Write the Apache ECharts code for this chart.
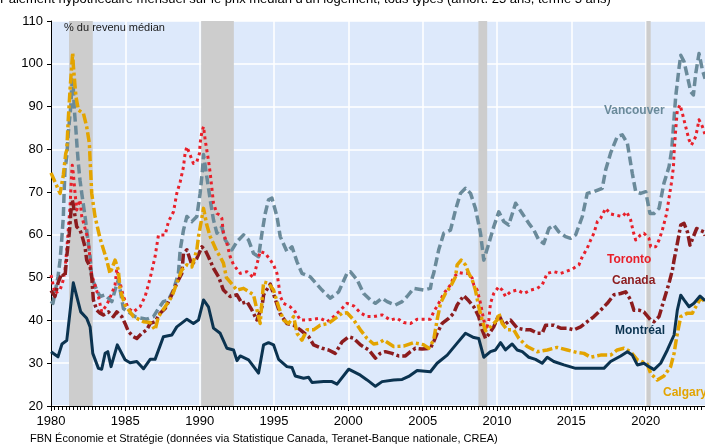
<!DOCTYPE html>
<html><head><meta charset="utf-8">
<script src="https://cdn.jsdelivr.net/npm/echarts@6/dist/echarts.min.js"></script>
<style>html,body{margin:0;padding:0;background:#fff}#c{width:705px;height:446px}</style>
</head><body><div id="c"></div>
<script>
const titleText = "Paiement hypothécaire mensuel sur le prix médian d'un logement, tous types (amort. 25 ans, terme 5 ans)";
const unitText = "% du revenu médian";
const sourceText = "FBN Économie et Stratégie (données via Statistique Canada, Teranet-Banque nationale, CREA)";

const recessions = [[1981.21,1982.81],[1990.1,1992.3],[2008.75,2009.34],[2020.05,2020.34]];

const montreal = [[1980.0,32.7],[1980.47,31.5],[1980.74,34.5],[1981.06,35.3],[1981.5,48.8],[1982.0,42],[1982.4,40.5],[1982.63,38.5],[1982.81,32.3],[1983.19,28.8],[1983.41,28.6],[1983.64,32.3],[1983.82,32.7],[1984.04,29.2],[1984.46,34.3],[1984.98,30.8],[1985.32,30.1],[1985.77,30.4],[1986.22,28.7],[1986.67,30.9],[1987.0,30.9],[1987.56,36.2],[1988.13,36.6],[1988.46,38.5],[1989.14,40.3],[1989.58,39.3],[1989.92,40.1],[1990.26,44.8],[1990.59,43.2],[1990.93,38.2],[1991.38,37],[1991.83,33.5],[1992.28,33.1],[1992.51,30.6],[1992.73,31.7],[1993.29,30.8],[1993.96,27.7],[1994.3,34.3],[1994.63,34.8],[1994.97,34.3],[1995.31,30.9],[1995.87,29.2],[1996.21,29.0],[1996.43,27],[1996.99,26.5],[1997.33,26.7],[1997.56,25.5],[1998.34,25.7],[1998.9,25.7],[1999.24,25.1],[2000.02,28.6],[2000.81,27.2],[2001.26,26.1],[2001.82,24.6],[2002.27,25.7],[2003.05,26.1],[2003.62,26.2],[2004.06,26.9],[2004.63,28.3],[2005.52,28.0],[2005.97,30.0],[2006.65,31.9],[2007.32,34.7],[2007.88,37.0],[2008.44,36.0],[2008.77,35.8],[2009.11,31.4],[2009.56,32.7],[2009.9,33.1],[2010.24,34.8],[2010.57,33.1],[2011.02,34.5],[2011.36,33.1],[2011.7,32.7],[2012.14,31.4],[2012.59,30.9],[2013.04,30],[2013.38,31.4],[2013.82,30.4],[2014.5,29.6],[2015.29,28.8],[2016.3,28.8],[2017.19,28.8],[2017.64,30.4],[2018.32,31.7],[2018.77,32.7],[2019.1,31.9],[2019.44,29.6],[2019.88,30],[2020.22,29.2],[2020.56,28.5],[2021.01,30],[2021.46,33.1],[2021.91,36.6],[2022.13,42.4],[2022.36,45.9],[2022.58,44.8],[2022.92,43.2],[2023.25,44],[2023.66,45.7],[2024.0,44.6]];

const vancouver = [[1980.0,44.5],[1980.13,44],[1980.47,50.2],[1980.61,54.1],[1980.72,58.8],[1980.83,64.3],[1980.88,69.7],[1980.94,75.2],[1981.06,78.3],[1981.16,83.7],[1981.33,90],[1981.43,96.2],[1981.5,94.3],[1981.57,89.2],[1981.66,85.3],[1981.77,79.8],[1981.84,76.7],[1981.95,72.8],[1982.07,69.7],[1982.29,64.3],[1982.47,59.2],[1982.63,54.9],[1982.74,49.9],[1983.08,47.1],[1983.3,45.6],[1983.64,46],[1984.09,44.4],[1984.31,47.1],[1984.53,49.5],[1984.87,42.8],[1985.32,41.7],[1985.66,40.9],[1985.99,40.6],[1986.44,40.3],[1986.89,40.9],[1987.23,42.8],[1987.56,44.4],[1987.9,44.8],[1988.24,47.1],[1988.57,51],[1988.69,56.5],[1988.91,61.1],[1989.14,64.3],[1989.47,63.1],[1989.81,64.3],[1990.03,69.7],[1990.19,75.2],[1990.26,78.8],[1990.48,73.6],[1990.71,68.2],[1990.93,63.5],[1991.16,60.4],[1991.49,61.9],[1991.72,58.8],[1992.17,56.5],[1992.51,58.4],[1992.95,60],[1993.29,58.8],[1993.62,55.7],[1993.96,54.9],[1994.19,60.4],[1994.41,65],[1994.63,68.2],[1994.86,68.6],[1994.97,68.2],[1995.2,64.3],[1995.42,59.6],[1995.54,59.2],[1995.87,56.1],[1996.21,57.2],[1996.55,53.7],[1996.88,51],[1997.44,50.2],[1998.23,47.1],[1998.79,45.2],[1999.35,46.7],[1999.91,51],[2000.13,51.4],[2000.59,49.5],[2001.03,46.3],[2001.48,44.8],[2001.82,44],[2002.27,45.2],[2002.61,44.4],[2003.16,43.6],[2003.62,44.4],[2003.95,45.6],[2004.4,47.5],[2005.07,47.1],[2005.52,47.5],[2005.64,49.9],[2005.74,51],[2006.08,56.5],[2006.42,60.4],[2006.87,61.1],[2007.21,65.8],[2007.54,69.7],[2007.88,70.9],[2008.22,69.7],[2008.55,66.2],[2008.89,60.4],[2009.11,54.1],[2009.45,58],[2009.78,61.9],[2010.12,65.4],[2010.46,63.1],[2010.79,62.3],[2011.25,67.4],[2011.7,65],[2012.14,62.7],[2012.48,61.1],[2012.81,58.8],[2013.15,58],[2013.49,61.5],[2013.82,62.3],[2014.16,60.7],[2014.61,59.6],[2014.95,59.2],[2015.29,60],[2015.74,64.3],[2016.07,69.7],[2016.52,70.1],[2017.08,70.9],[2017.31,75.2],[2017.64,79.1],[2018.09,83],[2018.43,83.4],[2018.77,81.4],[2018.88,79.1],[2019.1,74.4],[2019.33,70.1],[2019.66,69.7],[2020.0,70.1],[2020.29,65],[2020.56,65],[2020.9,66.2],[2021.23,72.1],[2021.57,75.9],[2021.75,79.8],[2022.02,92.3],[2022.24,98.9],[2022.36,102],[2022.58,100.5],[2022.81,97],[2023.03,93.5],[2023.21,92.7],[2023.37,97.8],[2023.59,102.4],[2023.82,98.5],[2024.0,96.5]];

const toronto = [[1980.0,50.6],[1980.13,50.2],[1980.27,46.3],[1980.61,47.1],[1980.83,49.5],[1980.94,51.8],[1981.06,56.5],[1981.16,61.1],[1981.28,66.6],[1981.39,74.4],[1981.43,76.3],[1981.5,74.4],[1981.62,69.7],[1981.73,65.8],[1981.95,68.2],[1982.07,64.3],[1982.29,61.5],[1982.51,58.8],[1982.63,54.1],[1982.74,50.6],[1982.96,48.3],[1983.19,45.6],[1983.41,42],[1983.75,43.6],[1984.09,46.3],[1984.31,48.3],[1984.42,52],[1984.87,45.6],[1985.21,42.8],[1985.54,42],[1985.99,43.2],[1986.33,45.6],[1986.67,49.9],[1986.78,50.2],[1987.0,54.9],[1987.23,60],[1987.68,60],[1987.9,63.1],[1988.24,65.4],[1988.46,69.7],[1988.69,72.4],[1988.91,75.9],[1989.02,79.1],[1989.14,80.6],[1989.31,79.1],[1989.58,76.7],[1989.81,77.1],[1989.99,79.1],[1990.03,81.4],[1990.15,84.1],[1990.26,85.3],[1990.37,82.2],[1990.48,79.8],[1990.59,77.5],[1990.71,74.4],[1990.93,67.4],[1991.16,65],[1991.38,64.6],[1991.49,63.9],[1991.6,60.4],[1991.83,58],[1992.05,54.9],[1992.28,53],[1992.73,51],[1993.18,51.4],[1993.62,50],[1994.07,56.1],[1994.41,55.7],[1994.75,54.1],[1994.97,53],[1995.2,51],[1995.31,48.5],[1995.42,45.6],[1995.64,44],[1996.09,43.2],[1996.43,42],[1996.77,40.1],[1997.22,40.1],[1997.66,40.3],[1998.11,40.5],[1998.57,39.7],[1999.01,40.9],[1999.46,42.4],[1999.91,44],[2000.36,43.4],[2000.81,41.8],[2001.26,40.9],[2001.7,40.9],[2002.27,41.3],[2002.83,40.1],[2003.28,40.5],[2003.72,39.5],[2004.18,39.3],[2004.63,40.3],[2005.07,40.3],[2005.52,40.3],[2005.74,42],[2006.08,44],[2006.42,46.3],[2006.87,48.3],[2007.09,50.2],[2007.43,51.2],[2007.76,51],[2008.1,51],[2008.33,49.9],[2008.44,48.3],[2008.67,47.1],[2008.89,44],[2009.11,40.1],[2009.29,37.8],[2009.45,40.1],[2009.56,44],[2009.78,46.3],[2010.12,47.9],[2010.35,47.1],[2010.57,45.6],[2010.91,46.7],[2011.36,47.1],[2011.81,46.3],[2012.26,47.1],[2012.71,47.5],[2013.04,48.3],[2013.38,51],[2013.82,51.4],[2014.28,51],[2014.61,51.4],[2015.06,52],[2015.51,53],[2015.74,54.9],[2016.07,56.9],[2016.3,58.8],[2016.52,60.4],[2016.75,63.1],[2016.97,63.9],[2017.31,66.2],[2017.64,64.9],[2017.98,64.6],[2018.43,64.3],[2018.72,65.4],[2018.99,63.5],[2019.17,60.7],[2019.33,58.8],[2019.66,60],[2019.88,60.4],[2020.22,59.2],[2020.34,57.2],[2020.67,57.2],[2020.9,58.8],[2021.12,61.1],[2021.41,65],[2021.57,68.6],[2021.73,72.1],[2021.87,75.9],[2021.91,79.1],[2022.02,84.5],[2022.13,89.2],[2022.31,90.4],[2022.47,88.4],[2022.69,85.3],[2022.92,82.2],[2023.08,81],[2023.37,83],[2023.59,86.9],[2023.82,85.3],[2024.0,83.4]];

const canada = [[1980.0,47],[1980.13,46.7],[1980.27,45.6],[1980.47,48.7],[1980.72,51],[1980.94,50.2],[1981.06,54.9],[1981.23,60.4],[1981.35,65.8],[1981.43,68.2],[1981.5,67],[1981.62,64.3],[1981.73,61.9],[1981.95,61.1],[1982.07,60],[1982.29,57.2],[1982.4,54.1],[1982.63,52.6],[1982.74,50.2],[1982.85,44.8],[1983.08,42.4],[1983.3,41.7],[1983.52,41.3],[1983.86,42],[1984.2,40.9],[1984.42,42],[1984.76,40.9],[1984.98,39.3],[1985.21,37.4],[1985.54,36.2],[1985.77,35.8],[1986.11,37],[1986.44,37.8],[1986.67,39.3],[1987.0,39.7],[1987.34,41.7],[1987.68,42.8],[1988.13,46],[1988.46,48.7],[1988.8,51],[1988.91,55.7],[1989.14,56.5],[1989.47,53],[1989.81,54.5],[1990.15,57.2],[1990.37,56.5],[1990.59,54.9],[1990.93,52.2],[1991.27,50.2],[1991.38,49.9],[1991.6,47.1],[1992.05,45.6],[1992.51,46],[1992.84,44],[1993.18,44.4],[1993.52,42.4],[1993.85,40.1],[1994.19,43.2],[1994.3,46],[1994.75,48.5],[1995.08,45],[1995.42,41.5],[1995.87,39.3],[1996.32,38.9],[1996.77,37.8],[1997.33,36.2],[1997.66,34.3],[1998.23,33.5],[1998.67,33.1],[1999.12,32.3],[1999.58,35],[2000.02,36.2],[2000.36,35.8],[2000.81,34.3],[2001.37,33.1],[2001.82,31.2],[2002.15,32.3],[2002.49,32.7],[2002.94,32.3],[2003.39,31.7],[2003.84,31.7],[2004.18,32.7],[2004.51,33.5],[2004.96,33.3],[2005.52,33.5],[2005.74,35],[2005.97,37],[2006.31,39.3],[2006.75,40.5],[2007.09,41.7],[2007.32,43.6],[2007.76,45.8],[2008.1,44.6],[2008.44,43.2],[2008.77,40.9],[2009.0,37.8],[2009.23,35.8],[2009.45,36.8],[2009.78,38.5],[2010.12,41.3],[2010.46,38.9],[2010.91,40.1],[2011.36,38.2],[2011.92,37.8],[2012.26,37.8],[2012.71,37],[2013.04,37],[2013.27,38.9],[2013.82,38.9],[2014.28,38.2],[2014.73,38.2],[2015.17,37.8],[2015.62,38.5],[2016.07,39.7],[2016.52,40.9],[2016.97,42.4],[2017.42,44],[2017.87,46],[2018.32,46.3],[2018.65,46.7],[2018.99,44.8],[2019.21,42.4],[2019.55,42.4],[2019.88,42],[2020.34,40.1],[2020.56,39.7],[2020.9,40.9],[2021.23,44.8],[2021.57,48.7],[2021.8,51.8],[2021.91,54.1],[2022.13,58],[2022.36,62.3],[2022.58,62.7],[2022.81,60.7],[2022.98,57.6],[2023.21,59.6],[2023.43,61.5],[2023.66,61.1],[2023.92,60.7],[2024.0,59.8]];

const calgary = [[1980.0,74.5],[1980.13,74.5],[1980.61,69.7],[1980.83,74],[1980.99,79],[1981.06,79.8],[1981.16,86.9],[1981.28,93.9],[1981.39,99.3],[1981.46,102.6],[1981.5,99.7],[1981.62,94.6],[1981.68,92.3],[1981.84,89.2],[1982.18,88.4],[1982.4,85.3],[1982.58,81.4],[1982.63,77.5],[1982.74,69.7],[1982.96,64.3],[1983.3,59.2],[1983.75,54.1],[1983.97,51],[1984.31,54.1],[1984.53,51.8],[1984.65,47.1],[1984.98,43.6],[1985.54,40.9],[1986.22,39.7],[1986.67,39.5],[1987.0,37.8],[1987.23,40.9],[1987.68,43.2],[1988.13,45.6],[1988.46,48.7],[1988.8,51.8],[1989.14,53],[1989.47,52.5],[1989.81,56.5],[1989.92,59.6],[1990.26,66.2],[1990.48,62.3],[1990.71,59.6],[1991.16,56.1],[1991.38,54.9],[1991.6,53.4],[1991.8,50],[1992.51,47.1],[1992.95,47.5],[1993.62,46],[1993.96,40.9],[1994.07,39.3],[1994.3,49],[1994.63,48.7],[1994.97,47.1],[1995.31,43.2],[1995.64,40.1],[1995.98,39.3],[1996.32,40.9],[1996.55,37],[1996.88,35.4],[1997.22,37.8],[1997.66,37.8],[1998.11,38.9],[1998.67,39.3],[1999.12,40.5],[1999.58,41.7],[1999.91,41.8],[2000.36,40.1],[2000.81,37.8],[2001.26,35.8],[2001.7,34.5],[2002.04,34.7],[2002.38,35.4],[2003.05,33.9],[2003.72,34],[2004.4,34.8],[2005.07,34.3],[2005.41,33.5],[2005.74,35.4],[2005.97,40.1],[2006.2,44],[2006.53,46.3],[2006.87,47.9],[2007.21,50.2],[2007.32,53],[2007.59,54.1],[2007.88,53],[2008.1,51],[2008.33,49.5],[2008.55,47.1],[2008.77,43.2],[2009.0,40.1],[2009.23,37.6],[2009.56,38.5],[2010.01,40.1],[2010.12,41.7],[2010.35,39.3],[2010.69,37.8],[2011.13,37.8],[2011.47,35.8],[2012.03,33.9],[2012.71,32.7],[2013.38,33.1],[2014.05,33.7],[2014.73,33.1],[2015.4,32.5],[2015.85,32.3],[2016.3,31.4],[2016.97,31.9],[2017.64,31.9],[2018.09,33.1],[2018.54,33.5],[2018.99,32.7],[2019.44,30.8],[2020.11,29.8],[2020.34,27.6],[2020.78,26.1],[2021.23,27],[2021.68,29.2],[2021.91,32.3],[2022.09,36.2],[2022.36,40.9],[2022.81,41.7],[2023.14,41.7],[2023.37,43.2],[2023.7,45.2],[2024.0,44.4]];

const FONT = "'Liberation Sans', Arial, Helvetica, sans-serif";
const chart = echarts.init(document.getElementById('c'), null, {renderer: 'canvas'});

function lineSeries(name, data, color, width, type, z) {
  return {
    name, type: 'line', data, z,
    showSymbol: false, symbol: 'none', smooth: false, silent: true,
    lineStyle: {color, width, type, cap: 'butt', join: 'round'}
  };
}

chart.setOption({
  animation: false,
  backgroundColor: '#ffffff',
  grid: {left: 51, top: 21, right: -15, bottom: 40, show: true, backgroundColor: '#dde9fb', borderWidth: 0, containLabel: false, outerBoundsMode: 'none'},
  xAxis: {
    type: 'value', min: 1980, max: 2025, interval: 5,
    axisLine: {show: true, onZero: false, lineStyle: {color: '#000', width: 1}},
    axisTick: {show: true, length: 5, lineStyle: {color: '#000'}},
    minorTick: {show: true, splitNumber: 20, length: 4, lineStyle: {color: '#000'}},
    axisLabel: {fontFamily: FONT, fontSize: 13, color: '#000', margin: 9, formatter: v => String(v)},
    splitLine: {show: true, lineStyle: {color: '#ffffff', width: 1.5}}
  },
  yAxis: {
    type: 'value', min: 20, max: 110, interval: 10,
    axisLine: {show: true, lineStyle: {color: '#000', width: 1}},
    axisTick: {show: true, length: 4, lineStyle: {color: '#000'}},
    axisLabel: {fontFamily: FONT, fontSize: 13, color: '#000', margin: 8},
    splitLine: {show: true, lineStyle: {color: '#ffffff', width: 1.5}}
  },
  series: [
    {
      type: 'line', data: [], z: 1, silent: true,
      markArea: {
        silent: true,
        itemStyle: {color: '#cdcdcd', opacity: 1},
        data: recessions.map(r => [{xAxis: r[0]}, {xAxis: r[1]}])
      }
    },
    lineSeries('Vancouver', vancouver, '#6a8a9a', 3.5, [9, 4], 3),
    lineSeries('Toronto', toronto, '#e8202a', 3, [3, 3.5], 4),
    lineSeries('Canada', canada, '#8c1c1e', 3.5, [10, 3, 3, 3], 5),
    lineSeries('Calgary', calgary, '#e3a400', 3.5, [10, 3, 3, 3], 6),
    lineSeries('Montréal', montreal, '#0b3350', 3, 'solid', 7)
  ],
  graphic: [
    {type: 'text', left: 0, top: -7, z: 100, style: {text: titleText, font: '13px ' + FONT, fill: '#000'}},
    {type: 'text', left: 64, top: 22, z: 100, style: {text: unitText, font: '11px ' + FONT, fill: '#1a1a1a'}},
    {type: 'text', left: 30, top: 433, z: 100, style: {text: sourceText, font: '11px ' + FONT, fill: '#000'}},
    {type: 'text', left: 604, top: 105, z: 100, style: {text: 'Vancouver', font: 'bold 12px ' + FONT, fill: '#6a8a9a'}},
    {type: 'text', left: 607, top: 254, z: 100, style: {text: 'Toronto', font: 'bold 12px ' + FONT, fill: '#e8202a'}},
    {type: 'text', left: 612, top: 275, z: 100, style: {text: 'Canada', font: 'bold 12px ' + FONT, fill: '#8c1c1e'}},
    {type: 'text', left: 615, top: 325, z: 100, style: {text: 'Montréal', font: 'bold 12px ' + FONT, fill: '#0b3350'}},
    {type: 'text', left: 663, top: 387, z: 100, style: {text: 'Calgary', font: 'bold 12px ' + FONT, fill: '#e3a400'}}
  ]
});
</script>
</body></html>
